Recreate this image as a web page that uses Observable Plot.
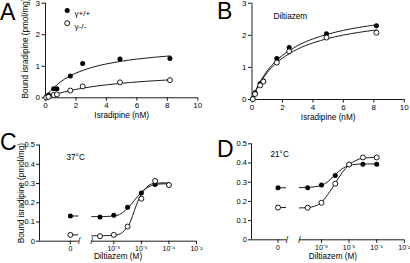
<!DOCTYPE html>
<html><head><meta charset="utf-8">
<script src="https://cdn.jsdelivr.net/npm/d3@7"></script>
<script src="https://cdn.jsdelivr.net/npm/@observablehq/plot@0.6"></script>
<style>
body{margin:0;background:#fff;}
#wrap{position:relative;width:410px;height:263px;overflow:hidden;background:#fff;}
.panel{position:absolute;}
#letters{position:absolute;left:0;top:0;pointer-events:none;}
</style></head><body>
<div id="wrap">
  <div class="panel" id="pA" style="left:0;top:0"></div>
  <div class="panel" id="pB" style="left:205px;top:0"></div>
  <div class="panel" id="pC" style="left:0;top:130px"></div>
  <div class="panel" id="pD" style="left:205px;top:130px"></div>
  <svg id="letters" width="410" height="263" font-family="Liberation Sans, Arial, sans-serif" font-size="23">
    <text x="0" y="20">A</text>
    <text x="217" y="19">B</text>
    <text x="0" y="150">C</text>
    <text x="217" y="157">D</text>
  </svg>
</div>
<script>
// ---------- data: panels A & B (saturation binding) ----------
const isradipineNM = [0.05, 0.2, 0.54, 0.75, 1.63, 2.44, 4.89, 8.17];
const boundWT_A = [0.02, 0.09, 0.29, 0.29, 0.69, 1.09, 1.23, 1.25];
const boundKO_A = [0.01, 0.03, 0.09, 0.11, 0.23, 0.36, 0.49, 0.56];
const boundWT_B = [0.02, 0.21, 0.50, 0.58, 1.28, 1.62, 2.05, 2.30];
const boundKO_B = [0.01, 0.17, 0.44, 0.56, 1.15, 1.50, 1.93, 2.08];
// fitted curves
const fitIsrNM = [0, 0.25, 0.5, 1, 1.5, 2, 3, 4, 5, 6, 7, 8.2];
const fitWT_A = [0, 0.164, 0.299, 0.509, 0.665, 0.784, 0.957, 1.075, 1.162, 1.227, 1.279, 1.328];
const fitKO_A = [0, 0.045, 0.086, 0.157, 0.216, 0.267, 0.348, 0.411, 0.462, 0.502, 0.536, 0.570];
const fitWT_B = [0, 0.287, 0.524, 0.893, 1.166, 1.376, 1.679, 1.887, 2.038, 2.153, 2.244, 2.330];
const fitKO_B = [0, 0.271, 0.495, 0.840, 1.094, 1.290, 1.571, 1.762, 1.902, 2.007, 2.090, 2.169];
const isrTicks = [0, 2, 4, 6, 8, 10];
const boundTicksAB = [0, 1, 2, 3];

// ---------- data: panels C & D (diltiazem dose response) ----------
const diltiazemM = [0, 1e-9, 1e-8, 1e-7, 1e-6, 1e-5, 1e-4];
const boundWT_C = [0.131, 0.126, 0.135, 0.176, 0.251, 0.295, 0.292];
const boundKO_C = [0.033, 0.026, 0.033, 0.076, 0.221, 0.313, 0.292];
const boundWT_D = [0.271, 0.271, 0.286, 0.335, 0.392, 0.394, 0.394];
const boundKO_D = [0.168, 0.167, 0.193, 0.292, 0.392, 0.429, 0.429];
const fitLogC_WT_C = [-9.6, -9, -8, -7.5, -7, -6.5, -6, -5.5, -5, -4.5, -4];
const fitWT_C =      [0.128, 0.128, 0.131, 0.142, 0.170, 0.213, 0.254, 0.282, 0.294, 0.298, 0.298];
const fitLogC_KO_C = [-9.6, -8.5, -8, -7.5, -7, -6.75, -6.5, -6.25, -6, -5.5, -5, -4.5, -4];
const fitKO_C =      [0.028, 0.029, 0.031, 0.040, 0.075, 0.110, 0.160, 0.208, 0.245, 0.288, 0.301, 0.303, 0.303];
const fitLogC_WT_D = [-9.6, -9, -8.5, -8, -7.5, -7, -6.5, -6, -5.5, -5, -4];
const fitWT_D =      [0.272, 0.273, 0.276, 0.284, 0.305, 0.340, 0.370, 0.387, 0.393, 0.395, 0.395];
const fitLogC_KO_D = [-9.6, -9, -8.5, -8, -7.5, -7, -6.5, -6, -5.5, -5, -4.5, -4];
const fitKO_D =      [0.166, 0.168, 0.175, 0.196, 0.240, 0.295, 0.350, 0.390, 0.414, 0.425, 0.428, 0.430];
const dilTickM = [0, 1e-8, 1e-6, 1e-4, 1e-2];
const dilTickLabels = ["0", "10\u207B\u2078", "10\u207B\u2076", "10\u207B\u2074", "10\u207B\u00B2"];
const boundTicksCD = [0, 0.1, 0.2, 0.3, 0.4, 0.5];

const yTitle = "Bound isradipine (pmol/mg)";
const font = "Liberation Sans, Arial, Helvetica, sans-serif";
const style = {fontFamily: font, fontSize: "8px", overflow: "visible", background: "none", color: "black"};
const R = 2.5, SW = 0.9;

const pts = (xs, ys) => xs.map((x, i) => ({x, y: ys[i]}));

function satPanel({wt, ko, fwt, fko, ml, mr, mb, extra}) {
  const xDom = [0, 10], yDom = [0, 3];
  return Plot.plot({
    width: 205, height: 130, marginLeft: ml, marginRight: mr, marginTop: 2.7, marginBottom: mb,
    x: {domain: xDom}, y: {domain: yDom}, style,
    marks: [
      Plot.ruleX([xDom[0]], {y1: yDom[0], y2: yDom[1], strokeWidth: SW}),
      Plot.ruleY([yDom[0]], {x1: xDom[0], x2: xDom[1], strokeWidth: SW}),
      Plot.axisX(isrTicks, {tickSize: 3.5, tickPadding: 1.5, label: null, strokeWidth: SW}),
      Plot.axisY(boundTicksAB, {tickSize: 3.5, tickPadding: 2, label: null, strokeWidth: SW}),
      Plot.line(pts(fitIsrNM, fwt), {x: "x", y: "y", curve: "natural", strokeWidth: SW}),
      Plot.line(pts(fitIsrNM, fko), {x: "x", y: "y", curve: "natural", strokeWidth: SW}),
      Plot.dot(pts(isradipineNM, wt), {x: "x", y: "y", r: R, fill: "black"}),
      Plot.dot(pts(isradipineNM, ko), {x: "x", y: "y", r: R, fill: "white", stroke: "black", strokeWidth: SW}),
      Plot.text(["Isradipine (nM)"], {frameAnchor: "bottom", textAnchor: "middle", dy: 20, fontSize: 8.2}),
      ...extra
    ]
  });
}

const xpos = c => c === 0 ? -11.15 : Math.log10(c);
const BREAK_L = -10.5, BREAK_R = -9.6;

function dosePanel({wt, ko, fxw, fw, fxk, fk, xDom, ml, mr, mt, mb, extra}) {
  const yDom = [0, 0.5];
  const labelMap = new Map(dilTickM.map((c, i) => [xpos(c), dilTickLabels[i]]));
  const segs = [{x1: xDom[0], x2: BREAK_L}, {x1: BREAK_R, x2: xDom[1]}];
  const zeroDash = (v) => [{x: xpos(0), y: v}, {x: BREAK_L - 0.1, y: v}];
  return Plot.plot({
    width: 205, height: 133, marginLeft: ml, marginRight: mr, marginTop: mt, marginBottom: mb,
    x: {domain: xDom}, y: {domain: yDom}, style,
    marks: [
      Plot.ruleX([xDom[0]], {y1: yDom[0], y2: yDom[1], strokeWidth: SW}),
      Plot.ruleY(segs, {x1: "x1", x2: "x2", y: yDom[0], strokeWidth: SW}),
      Plot.text([BREAK_L, BREAK_R], {x: d => d, y: yDom[0], text: () => "/", fontSize: 9}),
      Plot.axisX(dilTickM.map(xpos), {tickFormat: d => labelMap.get(d), tickSize: 3.5, tickPadding: 1.5, label: null, strokeWidth: SW, fontSize: 7}),
      Plot.axisY(boundTicksCD, {tickFormat: "~g", tickSize: 3, tickPadding: 1.5, label: null, strokeWidth: SW, fontSize: 7.5}),
      Plot.line(zeroDash(wt[0]), {x: "x", y: "y", strokeWidth: SW}),
      Plot.line(zeroDash(ko[0]), {x: "x", y: "y", strokeWidth: SW}),
      Plot.line(pts(fxw, fw), {x: "x", y: "y", curve: "natural", strokeWidth: SW}),
      Plot.line(pts(fxk, fk), {x: "x", y: "y", curve: "natural", strokeWidth: SW}),
      Plot.dot(pts(diltiazemM.map(xpos), wt), {x: "x", y: "y", r: R, fill: "black"}),
      Plot.dot(pts(diltiazemM.map(xpos), ko), {x: "x", y: "y", r: R, fill: "white", stroke: "black", strokeWidth: SW}),
      ...extra
    ]
  });
}

document.getElementById("pA").append(satPanel({
  wt: boundWT_A, ko: boundKO_A, fwt: fitWT_A, fko: fitKO_A, ml: 45, mr: 7.7, mb: 32.7,
  extra: [
    Plot.text([yTitle], {frameAnchor: "left", textAnchor: "middle", rotate: -90, dx: -20, dy: -2, fontSize: 8.2}),
    Plot.dot(["γ+/+"], {frameAnchor: "top-left", dx: 21.7, dy: 7.3, r: R, fill: "black"}),
    Plot.dot(["γ-/-"], {frameAnchor: "top-left", dx: 21.7, dy: 20, r: R, fill: "white", stroke: "black", strokeWidth: SW}),
    Plot.text(["γ+/+"], {frameAnchor: "top-left", dx: 29, dy: 7.3, textAnchor: "start", fontSize: 8}),
    Plot.text(["γ-/-"], {frameAnchor: "top-left", dx: 29, dy: 20, textAnchor: "start", fontSize: 8})
  ]
}));

document.getElementById("pB").append(satPanel({
  wt: boundWT_B, ko: boundKO_B, fwt: fitWT_B, fko: fitKO_B, ml: 46.5, mr: 6.2, mb: 31,
  extra: [
    Plot.text(["Diltiazem"], {frameAnchor: "top-left", dx: 21.5, dy: 10.3, textAnchor: "start", fontSize: 8.2})
  ]
}));

document.getElementById("pC").append(dosePanel({
  wt: boundWT_C, ko: boundKO_C, fxw: fitLogC_WT_C, fw: fitWT_C, fxk: fitLogC_KO_C, fk: fitKO_C,
  xDom: [-13.39, -2], ml: 39, mr: 9, mt: 14.5, mb: 22.3,
  extra: [
    Plot.text([yTitle], {frameAnchor: "left", textAnchor: "middle", rotate: -90, dx: -18, fontSize: 8.2}),
    Plot.text(["37°C"], {frameAnchor: "top-left", dx: 27, dy: 9.5, textAnchor: "start", fontSize: 8.2}),
    Plot.text(["Diltiazem (M)"], {frameAnchor: "bottom", textAnchor: "middle", dy: 17.5, fontSize: 8.2})
  ]
}));

document.getElementById("pD").append(dosePanel({
  wt: boundWT_D, ko: boundKO_D, fxw: fitLogC_WT_D, fw: fitWT_D, fxk: fitLogC_KO_D, fk: fitKO_D,
  xDom: [-13.07, -2], ml: 46, mr: 6.2, mt: 13.3, mb: 23.7,
  extra: [
    Plot.text(["21°C"], {frameAnchor: "top-left", dx: 19, dy: 7.3, textAnchor: "start", fontSize: 8.2}),
    Plot.text(["Diltiazem (M)"], {frameAnchor: "bottom", textAnchor: "middle", dx: 5, dy: 19, fontSize: 8.2})
  ]
}));
</script>
</body></html>
